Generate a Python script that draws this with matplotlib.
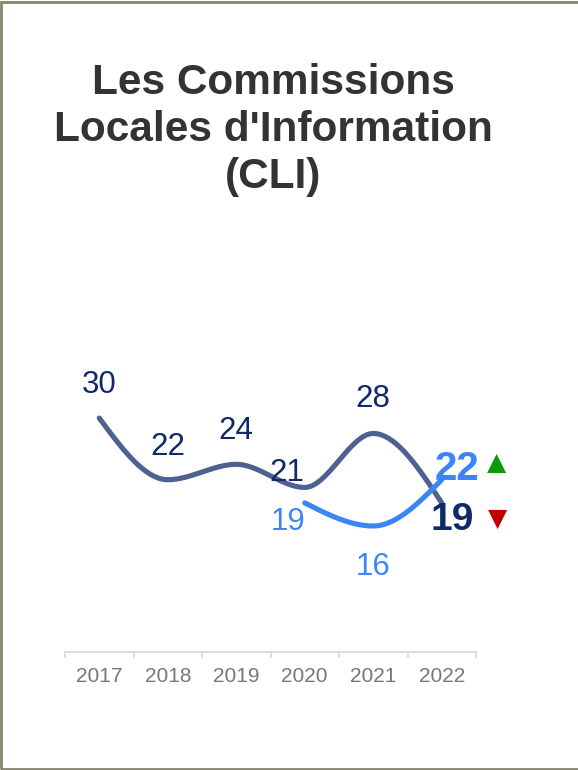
import numpy as np
import matplotlib.pyplot as plt
from matplotlib.patches import Rectangle

plt.rcParams['font.family'] = ['Liberation Sans', 'DejaVu Sans']

years = ['2017', '2018', '2019', '2020', '2021', '2022']
cli_total = [30, 22, 24, 21, 28, 19]
cli_new_years = ['2020', '2021', '2022']
cli_new = [19, 16, 22]

dark_line = '#4f6190'
navy = '#10296b'
light = '#3b86f7'


def monotone_x(x, y, n=40):
    # d3 style monotone cubic, only used to draw the smooth path
    x = np.asarray(x, float)
    y = np.asarray(y, float)
    h = np.diff(x)
    s = np.diff(y) / h
    t = np.zeros(len(x))
    for i in range(1, len(x) - 1):
        s0, s1 = s[i - 1], s[i]
        p = (s0 * h[i] + s1 * h[i - 1]) / (h[i - 1] + h[i])
        t[i] = (np.sign(s0) + np.sign(s1)) * min(abs(s0), abs(s1), 0.5 * abs(p))
    if len(x) > 2:
        t[0] = (3 * s[0] - t[1]) / 2
        t[-1] = (3 * s[-1] - t[-2]) / 2
    else:
        t[:] = s[0]
    xs, ys = [], []
    for i in range(len(x) - 1):
        u = np.linspace(0, 1, n)
        h00 = 2 * u**3 - 3 * u**2 + 1
        h10 = u**3 - 2 * u**2 + u
        h01 = -2 * u**3 + 3 * u**2
        h11 = u**3 - u**2
        xs.append(x[i] + u * h[i])
        ys.append(h00 * y[i] + h10 * h[i] * t[i] + h01 * y[i + 1] + h11 * h[i] * t[i + 1])
    return np.concatenate(xs), np.concatenate(ys)


fig = plt.figure(figsize=(5.78, 7.7), dpi=100)
ax = fig.add_axes([65 / 578, 118 / 770, 411 / 578, 311 / 770])

xa = np.arange(len(years))
xb = np.array([years.index(y) for y in cli_new_years])

sx, sy = monotone_x(xa, cli_total)
ax.plot(sx, sy, color=dark_line, lw=3.7, solid_capstyle='round', zorder=2)
sx, sy = monotone_x(xb, cli_new)
ax.plot(sx, sy, color=light, lw=3.7, solid_capstyle='round', zorder=3)

# label offsets in pixels
dark_off = [(0, 33), (0, 33), (0, 33), (-18, 14), (0, 34)]
for i, v in enumerate(cli_total[:-1]):
    ax.annotate(str(v), (xa[i], v), xytext=dark_off[i], textcoords='offset pixels',
                ha='center', va='center', fontsize=22.5, color=navy)
light_off = [(-17, -19), (0, -41)]
for i, v in enumerate(cli_new[:-1]):
    ax.annotate(str(v), (xb[i], v), xytext=light_off[i], textcoords='offset pixels',
                ha='center', va='center', fontsize=22.5, color=light)

ax.annotate(str(cli_new[-1]), (xb[-1], cli_new[-1]), xytext=(15, 11), textcoords='offset pixels',
            ha='center', va='center', fontsize=29, fontweight='bold', color=light, zorder=4)
ax.annotate(str(cli_total[-1]), (xa[-1], cli_total[-1]), xytext=(10, -17), textcoords='offset pixels',
            ha='center', va='center', fontsize=28, fontweight='bold', color=navy, zorder=4)
ax.annotate('▲', (xb[-1], cli_new[-1]), xytext=(55, 17), textcoords='offset pixels',
            ha='center', va='center', fontsize=18, color='#0a9a0a', family='DejaVu Sans')
ax.annotate('▼', (xa[-1], cli_total[-1]), xytext=(56, -16), textcoords='offset pixels',
            ha='center', va='center', fontsize=18, color='#c00000', family='DejaVu Sans')

ax.set_xlim(-0.5, len(years) - 0.5)
ax.set_ylim(-0.35, 40)
ax.set_yticks([])
ax.set_xticks(xa)
ax.set_xticklabels(years)
ax.set_xticks(np.arange(-0.5, len(years)), minor=True)
ax.tick_params(axis='x', which='major', length=0, pad=10.5, labelsize=15, labelcolor='#777777')
ax.tick_params(axis='x', which='minor', length=4.5, width=1.4, color='#dddddd')
for side in ['top', 'right', 'left']:
    ax.spines[side].set_visible(False)
ax.spines['bottom'].set_color('#dddddd')
ax.spines['bottom'].set_linewidth(1.4)
ax.patch.set_alpha(0)

fig.text(273 / 578, 1 - 130 / 770, "Les Commissions\nLocales d'Information\n(CLI)",
         ha='center', va='center', fontsize=30.5, fontweight='bold', color='#333333',
         linespacing=1.24)

fig.add_artist(Rectangle((1 / 578, 1 / 770), 1.2, 767 / 770, transform=fig.transFigure,
                         fill=False, edgecolor='#85856f', lw=2))

fig.savefig('out.png', dpi=100, facecolor='white')
